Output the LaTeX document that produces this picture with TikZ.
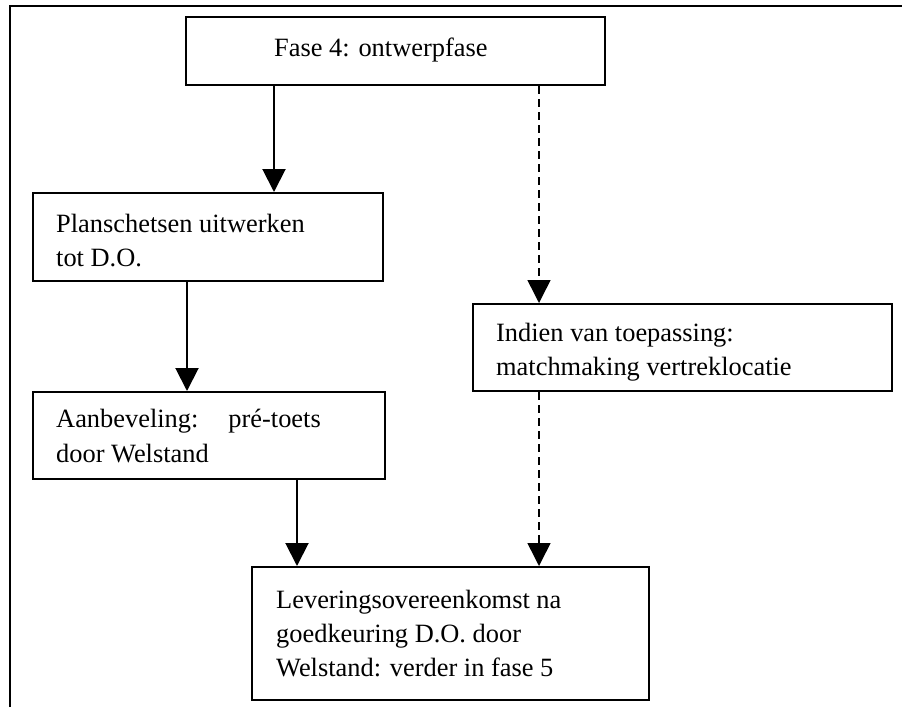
\documentclass[tikz,border=0pt]{standalone}
\usepackage{fontspec}
\setmainfont{Liberation Serif}
\usetikzlibrary{arrows.meta}
\begin{document}
\begin{tikzpicture}[x=1pt,y=-1pt,
  box/.style={draw,line width=2pt,inner sep=0pt},
  txt/.style={anchor=base west,inner sep=0pt,font=\fontsize{26.4}{34}\selectfont},
  flow/.style={line width=2pt,-{Triangle[length=23pt,width=23pt]}},
  optflow/.style={line width=1.5pt,dash pattern=on 8pt off 5pt,-{Triangle[length=23pt,width=23pt]}}]
\useasboundingbox (0,0) rectangle (902,707);
% open outer frame: left and top edges only
\draw[line width=1.8pt] (10,707) -- (10,6) -- (902,6);

% boxes
\node[box,minimum width=419pt,minimum height=68pt] (fase)   at (395.5,51) {};
\node[box,minimum width=350pt,minimum height=88pt] (plan)   at (208,237) {};
\node[box,minimum width=352pt,minimum height=87pt] (aanb)   at (209,435.5) {};
\node[box,minimum width=419pt,minimum height=87pt] (indien) at (682.5,347.5) {};
\node[box,minimum width=397pt,minimum height=133pt] (lever) at (450.5,633.5) {};

% box texts
\node[txt] (tfase)  at (274,56)  {Fase 4: ontwerpfase};
\node[txt] (tplan1) at (56,232)  {Planschetsen uitwerken};
\node[txt] (tplan2) at (56,266)  {tot D.O.};
\node[txt] (taan1)  at (56,427)  {Aanbeveling:\hspace{30pt}pré-toets};
\node[txt] (taan2)  at (56,462)  {door Welstand};
\node[txt] (tind1)  at (496,341) {Indien van toepassing:};
\node[txt] (tind2)  at (496,375) {matchmaking vertreklocatie};
\node[txt] (tlev1)  at (276,608) {Leveringsovereenkomst na};
\node[txt] (tlev2)  at (276,642) {goedkeuring D.O. door};
\node[txt] (tlev3)  at (276,676) {Welstand: verder in fase 5};

% connectors
\draw[flow] (fase.south -| 274,0) -- (plan.north -| 274,0);
\draw[flow] (plan.south -| 187,0) -- (aanb.north -| 187,0);
\draw[flow] (aanb.south -| 297,0) -- (lever.north -| 297,0);
\draw[optflow] (fase.south -| 539,0) -- (indien.north -| 539,0);
\draw[optflow] (indien.south -| 539,0) -- (lever.north -| 539,0);
\end{tikzpicture}
\end{document}
